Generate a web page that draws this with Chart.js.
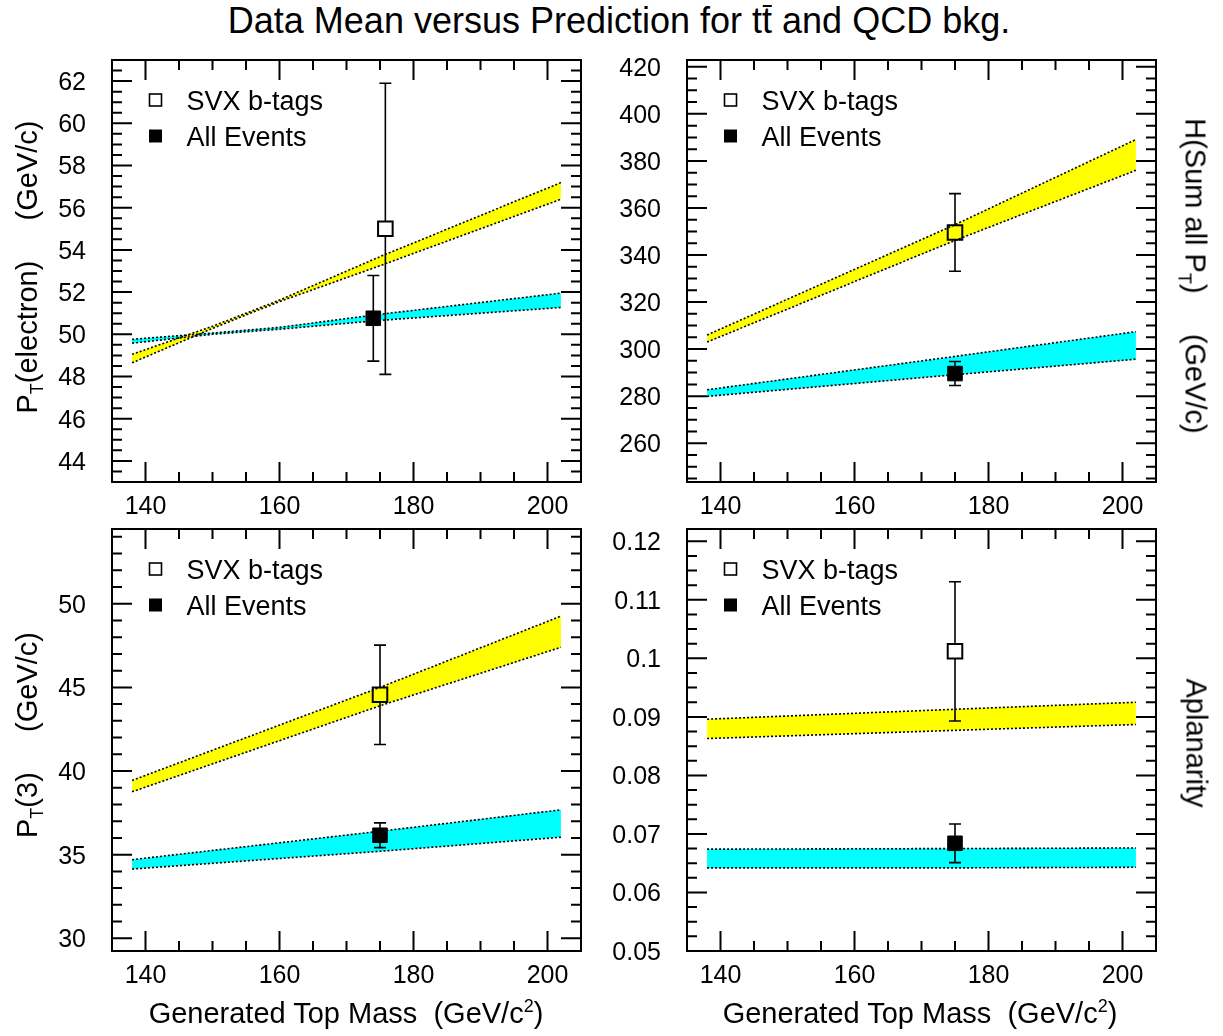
<!DOCTYPE html>
<html>
<head>
<meta charset="utf-8">
<script src="https://cdn.jsdelivr.net/npm/chart.js@4.4.1/dist/chart.umd.min.js"></script>
<style>
  body { margin: 0; background: #fff; width: 1223px; height: 1036px; position: relative; overflow: hidden;
         font-family: "Liberation Sans", Arial, Helvetica, sans-serif; color: #000; }
  .panel { position: absolute; width: 620px; height: 490px; }
  .txt { position: absolute; white-space: nowrap; line-height: 1; }
  #title { left: 619px; top: 3px; font-size: 36px; line-height: 36px; transform: translateX(-50%); }
  .axt { font-size: 29px; line-height: 29px; }
  .left { transform: translate(-50%, -50%) rotate(-90deg); }
  .right { transform: translate(-50%, -50%) rotate(90deg); }
  .bottom { transform: translate(-50%, -50%); }
  sub, sup { font-size: 0.62em; line-height: 0; }
  .tbar { position: relative; }
  .tbar::after { content: ''; position: absolute; left: 1px; right: 0; top: 5px; border-top: 2px solid #000; }
</style>
</head>
<body>
<div id="title" class="txt">Data Mean versus Prediction for t<span class="tbar">t</span> and QCD bkg.</div>

<canvas id="elec" class="panel" width="620" height="490" style="left:0;top:40px"></canvas>
<canvas id="sumpt" class="panel" width="620" height="490" style="left:575px;top:40px"></canvas>
<canvas id="pt3" class="panel" width="620" height="490" style="left:0;top:509px"></canvas>
<canvas id="apl" class="panel" width="620" height="490" style="left:575px;top:509px"></canvas>

<div class="txt axt left" style="left:27px;top:267px">P<sub>T</sub>(electron)&nbsp;&nbsp;&nbsp;&nbsp;&nbsp;(GeV/c)</div>
<div class="txt axt right" style="left:1195px;top:276px">H(Sum all P<sub>T</sub>)&nbsp;&nbsp;&nbsp;&nbsp;&nbsp;(GeV/c)</div>
<div class="txt axt left" style="left:27px;top:735px">P<sub>T</sub>(3)&nbsp;&nbsp;&nbsp;&nbsp;&nbsp;(GeV/c)</div>
<div class="txt axt right" style="left:1196px;top:743px">Aplanarity</div>
<div class="txt axt bottom" style="left:346px;top:1013px">Generated Top Mass&nbsp;&nbsp;(GeV/c<sup>2</sup>)</div>
<div class="txt axt bottom" style="left:920px;top:1013px">Generated Top Mass&nbsp;&nbsp;(GeV/c<sup>2</sup>)</div>

<script>
const massTicks = [140, 160, 180, 200];
const legendNames = ['SVX b-tags', 'All Events'];

// electron Pt
const elecTicks = [44, 46, 48, 50, 52, 54, 56, 58, 60, 62];
const elecBandX = [138, 150, 160, 175, 202];
const elecTtUp = [49.05, 50.38, 51.62, 53.68, 57.19];
const elecTtLo = [48.65, 50.28, 51.55, 53.25, 56.40];
const elecQcdUp = [49.76, 50.06, 50.33, 50.95, 51.95];
const elecQcdLo = [49.58, 50.00, 50.24, 50.66, 51.27];
const elecMass = [175.8, 174.0];
const elecMean = [55.0, 50.76];
const elecErr = [6.9, 2.03];

// H = sum of all Pt
const sumTicks = [260, 280, 300, 320, 340, 360, 380, 400, 420];
const sumBandX = [138, 175, 202];
const sumTtUp = [306.0, 352.9, 389.1];
const sumTtLo = [303.0, 346.2, 376.0];
const sumQcdUp = [282.7, 296.9, 307.4];
const sumQcdLo = [279.9, 289.1, 295.7];
const sumMass = [175, 175];
const sumMean = [349.6, 289.6];
const sumErr = [16.5, 5.1];

// third jet Pt
const pt3Ticks = [30, 35, 40, 45, 50];
const pt3BandX = [138, 175, 202];
const pt3TtUp = [39.44, 45.0, 49.26];
const pt3TtLo = [38.76, 43.9, 47.4];
const pt3QcdUp = [34.7, 36.4, 37.68];
const pt3QcdLo = [34.14, 35.2, 36.04];
const pt3Mass = [175, 175];
const pt3Mean = [44.56, 36.16];
const pt3Err = [2.97, 0.74];

// aplanarity
const aplTicks = [0.05, 0.06, 0.07, 0.08, 0.09, 0.1, 0.11, 0.12];
const aplBandX = [138, 175, 202];
const aplTtUp = [0.0896, 0.0913, 0.0925];
const aplTtLo = [0.0863, 0.0877, 0.0887];
const aplQcdUp = [0.0674, 0.0675, 0.0676];
const aplQcdLo = [0.0642, 0.0642, 0.0643];
const aplMass = [175, 175];
const aplMean = [0.1012, 0.0684];
const aplErr = [0.0119, 0.0033];

const FONT = '"Liberation Sans", Arial, Helvetica, sans-serif';

// frame with inward ticks on all four sides
const frameTicks = {
  id: 'frameTicks',
  afterDraw(chart, args, opts) {
    const { ctx, chartArea: a, scales } = chart;
    ctx.save();
    ctx.strokeStyle = '#000';
    ctx.lineWidth = 2;
    ctx.beginPath();
    const walk = (scale, majors, minor, fn) => {
      const start = majors[0] - Math.floor((majors[0] - scale.min) / minor + 1e-6) * minor;
      for (let k = 0; ; k++) {
        const v = start + k * minor;
        if (v > scale.max + 1e-9) break;
        const major = majors.some(m => Math.abs(m - v) < minor * 1e-3);
        fn(scale.getPixelForValue(v), major ? 20 : 10);
      }
    };
    walk(scales.x, massTicks, 5, (p, len) => {
      ctx.moveTo(p, a.bottom); ctx.lineTo(p, a.bottom - len);
      ctx.moveTo(p, a.top); ctx.lineTo(p, a.top + len);
    });
    walk(scales.y, opts.majors, opts.minor, (p, len) => {
      ctx.moveTo(a.left, p); ctx.lineTo(a.left + len, p);
      ctx.moveTo(a.right, p); ctx.lineTo(a.right - len, p);
    });
    ctx.stroke();
    ctx.strokeRect(a.left, a.top, a.right - a.left, a.bottom - a.top);
    ctx.restore();
  }
};

// vertical error bars, stopped at the marker edge
const errorBars = {
  id: 'errorBars',
  afterDatasetsDraw(chart) {
    const { ctx } = chart;
    const ys = chart.scales.y;
    chart.data.datasets.forEach((ds, i) => {
      if (!ds.errors) return;
      chart.getDatasetMeta(i).data.forEach((pt, j) => {
        const v = ds.data[j].y, e = ds.errors[j];
        const top = ys.getPixelForValue(v + e), bot = ys.getPixelForValue(v - e);
        const h = ds.pointRadius * Math.SQRT1_2;
        ctx.save();
        ctx.strokeStyle = '#000';
        ctx.lineWidth = 1.6;
        ctx.beginPath();
        if (top < pt.y - h) { ctx.moveTo(pt.x, top); ctx.lineTo(pt.x, pt.y - h); }
        if (bot > pt.y + h) { ctx.moveTo(pt.x, pt.y + h); ctx.lineTo(pt.x, bot); }
        ctx.moveTo(pt.x - 6, top); ctx.lineTo(pt.x + 6, top);
        ctx.moveTo(pt.x - 6, bot); ctx.lineTo(pt.x + 6, bot);
        ctx.stroke();
        ctx.restore();
      });
    });
  }
};

// legend box in the upper left corner
const boxLegend = {
  id: 'boxLegend',
  afterDraw(chart) {
    const { ctx, chartArea: a } = chart;
    ctx.save();
    ctx.font = '27px ' + FONT;
    ctx.textBaseline = 'middle';
    ctx.fillStyle = '#000';
    ctx.strokeStyle = '#000';
    chart.data.datasets.filter(d => d.errors).forEach((d, i) => {
      const cx = a.left + 43.5, cy = a.top + 40 + i * 36;
      if (d.filled) ctx.fillRect(cx - 6.5, cy - 6.5, 13, 13);
      else { ctx.lineWidth = 1.6; ctx.strokeRect(cx - 6, cy - 6, 12, 12); }
      ctx.fillText(d.label, a.left + 74.5, cy + 3);
    });
    ctx.restore();
  }
};

function band(xs, ys, color, fill, order) {
  return {
    data: xs.map((x, i) => ({ x, y: ys[i] })),
    borderColor: '#000', borderWidth: 1.6, borderDash: [2, 2],
    backgroundColor: color, fill, order, pointRadius: 0, tension: 0
  };
}

function marker(x, y, err, filled, label) {
  return {
    label, filled,
    data: [{ x, y }], errors: [err],
    showLine: false, pointStyle: 'rect', pointRadius: 10.3,
    pointBackgroundColor: filled ? '#000' : 'rgba(0,0,0,0)',
    pointBorderColor: '#000', pointBorderWidth: filled ? 1 : 2,
    order: 1
  };
}

function makePanel(id, p) {
  const tickFont = { family: FONT, size: 25 };
  new Chart(document.getElementById(id), {
    type: 'line',
    data: {
      datasets: [
        band(p.bandX, p.ttUp, '#ffff00', '+1', 3),
        band(p.bandX, p.ttLo, '#ffff00', false, 4),
        band(p.bandX, p.qcdUp, '#00ffff', '+1', 5),
        band(p.bandX, p.qcdLo, '#00ffff', false, 6),
        marker(p.mass[0], p.mean[0], p.err[0], false, legendNames[0]),
        marker(p.mass[1], p.mean[1], p.err[1], true, legendNames[1])
      ]
    },
    options: {
      responsive: false, animation: false, events: [],
      layout: { padding: { left: 0, top: 20, right: 39, bottom: 0 } },
      plugins: {
        legend: { display: false }, tooltip: { enabled: false },
        filler: { drawTime: 'beforeDatasetsDraw' },
        frameTicks: { majors: p.ticks, minor: p.minor }
      },
      scales: {
        x: {
          type: 'linear', min: 135, max: 205,
          afterBuildTicks: s => { s.ticks = massTicks.map(v => ({ value: v })); },
          afterFit: s => { s.height = 48; s.paddingLeft = 0; s.paddingRight = 0; },
          grid: { display: false, drawTicks: false }, border: { display: false },
          ticks: { font: tickFont, color: '#000', padding: 10, maxRotation: 0, autoSkip: false,
                   callback: v => String(v) }
        },
        y: {
          type: 'linear', min: p.min, max: p.max,
          afterBuildTicks: s => { s.ticks = p.ticks.map(v => ({ value: v })); },
          afterFit: s => { s.width = 112; s.paddingTop = 0; s.paddingBottom = 0; },
          grid: { display: false, drawTicks: false }, border: { display: false },
          ticks: { font: tickFont, color: '#000', padding: 26, autoSkip: false, labelOffset: 2,
                   callback: v => String(v) }
        }
      }
    },
    plugins: [frameTicks, errorBars, boxLegend]
  });
}

makePanel('elec', { min: 43, max: 63, ticks: elecTicks, minor: 0.5, bandX: elecBandX,
  ttUp: elecTtUp, ttLo: elecTtLo, qcdUp: elecQcdUp, qcdLo: elecQcdLo,
  mass: elecMass, mean: elecMean, err: elecErr });
makePanel('sumpt', { min: 243.5, max: 422.9, ticks: sumTicks, minor: 5, bandX: sumBandX,
  ttUp: sumTtUp, ttLo: sumTtLo, qcdUp: sumQcdUp, qcdLo: sumQcdLo,
  mass: sumMass, mean: sumMean, err: sumErr });
makePanel('pt3', { min: 29.24, max: 54.47, ticks: pt3Ticks, minor: 1, bandX: pt3BandX,
  ttUp: pt3TtUp, ttLo: pt3TtLo, qcdUp: pt3QcdUp, qcdLo: pt3QcdLo,
  mass: pt3Mass, mean: pt3Mean, err: pt3Err });
makePanel('apl', { min: 0.05, max: 0.1221, ticks: aplTicks, minor: 0.0025, bandX: aplBandX,
  ttUp: aplTtUp, ttLo: aplTtLo, qcdUp: aplQcdUp, qcdLo: aplQcdLo,
  mass: aplMass, mean: aplMean, err: aplErr });
</script>
</body>
</html>
